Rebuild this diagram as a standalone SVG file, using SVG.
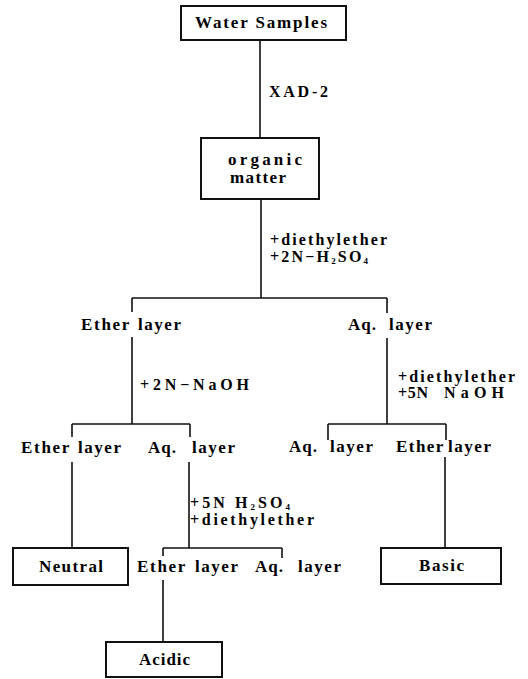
<svg xmlns="http://www.w3.org/2000/svg" width="528" height="679" viewBox="0 0 528 679">
<style>
.box{fill:#fff;stroke:#111;stroke-width:2}
.ln{stroke:#111;stroke-width:1.6;fill:none}
</style>
<rect width="528" height="679" fill="#fff"/>
<g id="connectors">
<path class="ln" d="M260 40V138M261 199V298M132 298H387M132 298V312M132 337V424M387 298V313M387 338V424M72 424H190M72 424V437M190 424V437M72 462V548M189 462V548M163 548H282M163 548V556M282 548V558M163 580V642M328 424H446M328 424V440M446 424V440M445 457V548"/>
</g>
<g id="labels">
<text x="269" y="97" font-family="Liberation Serif" font-weight="bold" font-size="16" textLength="59">XAD-2</text>
<text x="270" y="245" font-family="Liberation Serif" font-weight="bold" font-size="16" textLength="117">+diethylether</text>
<text x="270" y="262" font-family="Liberation Serif" font-weight="bold" font-size="16" textLength="98">+2N−H<tspan font-size="9" dy="2">2</tspan><tspan dy="-2">SO</tspan><tspan font-size="9" dy="2">4</tspan></text>
<text x="140" y="390" font-family="Liberation Serif" font-weight="bold" font-size="16" textLength="109">+2N−NaOH</text>
<text x="398" y="382" font-family="Liberation Serif" font-weight="bold" font-size="16" textLength="117">+diethylether</text>
<text y="398" font-family="Liberation Serif" font-weight="bold" font-size="16"><tspan x="398" textLength="30">+5N</tspan> <tspan x="444" textLength="60">NaOH</tspan></text>
<text x="190" y="508" font-family="Liberation Serif" font-weight="bold" font-size="16" textLength="100">+5N H<tspan font-size="9" dy="1.5">2</tspan><tspan dy="-1.5">SO</tspan><tspan font-size="9" dy="1.5">4</tspan></text>
<text x="190" y="525" font-family="Liberation Serif" font-weight="bold" font-size="16" textLength="124">+diethylether</text>
</g>
<g id="ether1"><text y="330" font-family="Liberation Serif" font-weight="bold" font-size="17"><tspan x="81" textLength="48">Ether</tspan> <tspan x="138" textLength="43">layer</tspan></text></g>
<g id="aq1"><text y="330" font-family="Liberation Serif" font-weight="bold" font-size="17"><tspan x="348" textLength="28">Aq.</tspan> <tspan x="389" textLength="43">layer</tspan></text></g>
<g id="ether2"><text y="453" font-family="Liberation Serif" font-weight="bold" font-size="17"><tspan x="21" textLength="48">Ether</tspan> <tspan x="78" textLength="43">layer</tspan></text></g>
<g id="aq2"><text y="453" font-family="Liberation Serif" font-weight="bold" font-size="17"><tspan x="148" textLength="28">Aq.</tspan> <tspan x="192" textLength="43">layer</tspan></text></g>
<g id="aq3"><text y="452" font-family="Liberation Serif" font-weight="bold" font-size="17"><tspan x="289" textLength="28">Aq.</tspan> <tspan x="330" textLength="43">layer</tspan></text></g>
<g id="ether3"><text y="452" font-family="Liberation Serif" font-weight="bold" font-size="17"><tspan x="396" textLength="47">Ether</tspan> <tspan x="448" textLength="43">layer</tspan></text></g>
<g id="ether4"><text y="572" font-family="Liberation Serif" font-weight="bold" font-size="17"><tspan x="137" textLength="48">Ether</tspan> <tspan x="195" textLength="43">layer</tspan></text></g>
<g id="aq4"><text y="572" font-family="Liberation Serif" font-weight="bold" font-size="17"><tspan x="255" textLength="28">Aq.</tspan> <tspan x="298" textLength="43">layer</tspan></text></g>
<g id="water"><rect class="box" x="181" y="6" width="165" height="34"/><text x="195" y="28" font-family="Liberation Serif" font-weight="bold" font-size="17" textLength="132">Water Samples</text></g>
<g id="organic"><rect class="box" x="201" y="138" width="118" height="61"/><text x="228" y="165" font-family="Liberation Serif" font-weight="bold" font-size="17" textLength="74">organic</text><text x="230" y="183" font-family="Liberation Serif" font-weight="bold" font-size="17" textLength="56">matter</text></g>
<g id="neutral"><rect class="box" x="13" y="548" width="115" height="37"/><text x="39" y="572" font-family="Liberation Serif" font-weight="bold" font-size="17" textLength="64">Neutral</text></g>
<g id="acidic"><rect class="box" x="106" y="642" width="116" height="35"/><text x="139" y="665" font-family="Liberation Serif" font-weight="bold" font-size="17" textLength="51">Acidic</text></g>
<g id="basic"><rect class="box" x="381" y="548" width="120" height="36"/><text x="419" y="571" font-family="Liberation Serif" font-weight="bold" font-size="17" textLength="45">Basic</text></g>
</svg>
